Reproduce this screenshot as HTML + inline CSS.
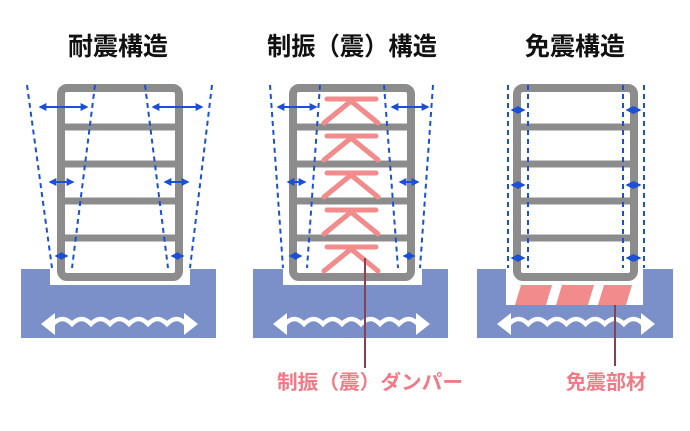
<!DOCTYPE html>
<html><head><meta charset="utf-8"><style>
html,body{margin:0;padding:0;background:#fff;}
svg{display:block;}
text{font-family:"Liberation Sans","Noto Sans CJK JP",sans-serif;font-weight:bold;}
</style></head><body>
<svg id="s" width="690" height="431" viewBox="0 0 690 431" xmlns="http://www.w3.org/2000/svg">
<defs>
<marker id="a" viewBox="0 0 10 10" refX="8" refY="5" markerWidth="4" markerHeight="4" orient="auto-start-reverse"><path d="M0,0L10,5L0,10z" fill="#1a4fd6"/></marker>
</defs>
<text x="118" y="55" font-size="25" text-anchor="middle" fill="#111">耐震構造</text>
<text x="352" y="55" font-size="25" text-anchor="middle" fill="#111" textLength="170" lengthAdjust="spacingAndGlyphs">制振（震）構造</text>
<text x="575" y="55" font-size="25" text-anchor="middle" fill="#111">免震構造</text>
<g id="g"></g>
<text x="370" y="389" font-size="20" text-anchor="middle" fill="#f07b86" textLength="186" lengthAdjust="spacingAndGlyphs">制振（震）ダンパー</text>
<text x="606" y="389" font-size="20" text-anchor="middle" fill="#f07b86">免震部材</text>
</svg>
<script>
var g=document.getElementById('g'),h='';
function base(x1,x2,nx1,nx2,ny2){
 h+='<rect x="'+x1+'" y="269" width="'+(x2-x1)+'" height="69" fill="#7b90c8"/>';
 h+='<rect x="'+nx1+'" y="268" width="'+(nx2-nx1)+'" height="'+(ny2-268)+'" fill="#fff"/>';
 var cx1=x1+20,cx2=x2-18,y=324,p='M'+(cx1+12)+','+y;
 var n=Math.round((cx2-cx1-24)/18);var st=(cx2-cx1-24)/n;
 for(var i=0;i<n;i++){p+=' q'+(st/2)+','+(-10)+' '+st+',0';}
 h+='<path d="'+p+'" stroke="#fff" stroke-width="4.5" fill="none"/>';
 h+='<path d="M'+cx1+','+y+' l14,-11 v22z M'+cx2+','+y+' l-14,-11 v22z" fill="#fff"/>';
}
function bld(x1,x2){
 h+='<rect x="'+(x1+4)+'" y="88" width="'+(x2-x1-8)+'" height="189" rx="6" fill="none" stroke="#8c8c8c" stroke-width="8"/>';
 [127,164,201,238].forEach(function(y){h+='<rect x="'+x1+'" y="'+(y-3.5)+'" width="'+(x2-x1)+'" height="7" fill="#8c8c8c"/>';});
}
function dl(x1,y1,x2,y2){h+='<line x1="'+x1+'" y1="'+y1+'" x2="'+x2+'" y2="'+y2+'" stroke="#1a4fd6" stroke-width="2" stroke-dasharray="5,4"/>';}
function ar(x1,x2,y){h+='<line x1="'+x1+'" y1="'+y+'" x2="'+x2+'" y2="'+y+'" stroke="#1a4fd6" stroke-width="2" marker-start="url(#a)" marker-end="url(#a)"/>';}
base(21,216,50,190,285);bld(57,183);
dl(27,85,52,268);dl(95,85,72,268);dl(145,85,168,268);dl(212,85,190,268);
ar(40,87,107);ar(153,202,107);ar(50,73,182);ar(165,188,182);ar(56,67,256);ar(172,183,256);
base(253,448,283,422,285);bld(289,415);
[0,37,74,111,148].forEach(function(o){
 var y=99+o;
 h+='<line x1="327" y1="'+y+'" x2="376" y2="'+y+'" stroke="#f28b8b" stroke-width="5" stroke-linecap="round"/>';
 h+='<path d="M324,'+(y+24)+' L351,'+(y+2)+' L378,'+(y+24)+'" stroke="#f28b8b" stroke-width="5" fill="none" stroke-linecap="round"/>';
});
h+='<line x1="365" y1="258" x2="365" y2="368" stroke="#8b4050" stroke-width="2"/>';
dl(270,85,283,268);dl(320,85,307,268);dl(384,85,398,268);dl(433,85,420,268);
ar(278,316,107);ar(392,428,107);ar(288,305,182);ar(400,418,182);ar(290,301,256);ar(404,414,256);
base(477,673,506,643,305);bld(513,638);
[[515,552],[556,594],[598,632]].forEach(function(p){
 h+='<path d="M'+(p[0]+6)+',285 L'+p[1]+',285 L'+(p[1]-6)+',305 L'+p[0]+',305z" fill="#f28b8b"/>';
});
h+='<line x1="615" y1="305" x2="615" y2="366" stroke="#8b4050" stroke-width="2"/>';
dl(508,85,508,268);dl(528,85,528,268);dl(623,85,623,268);dl(644,85,644,268);
[110,185,258].forEach(function(y){ar(512,524,y);ar(627,640,y);});
g.innerHTML=h;
</script>
</body></html>
